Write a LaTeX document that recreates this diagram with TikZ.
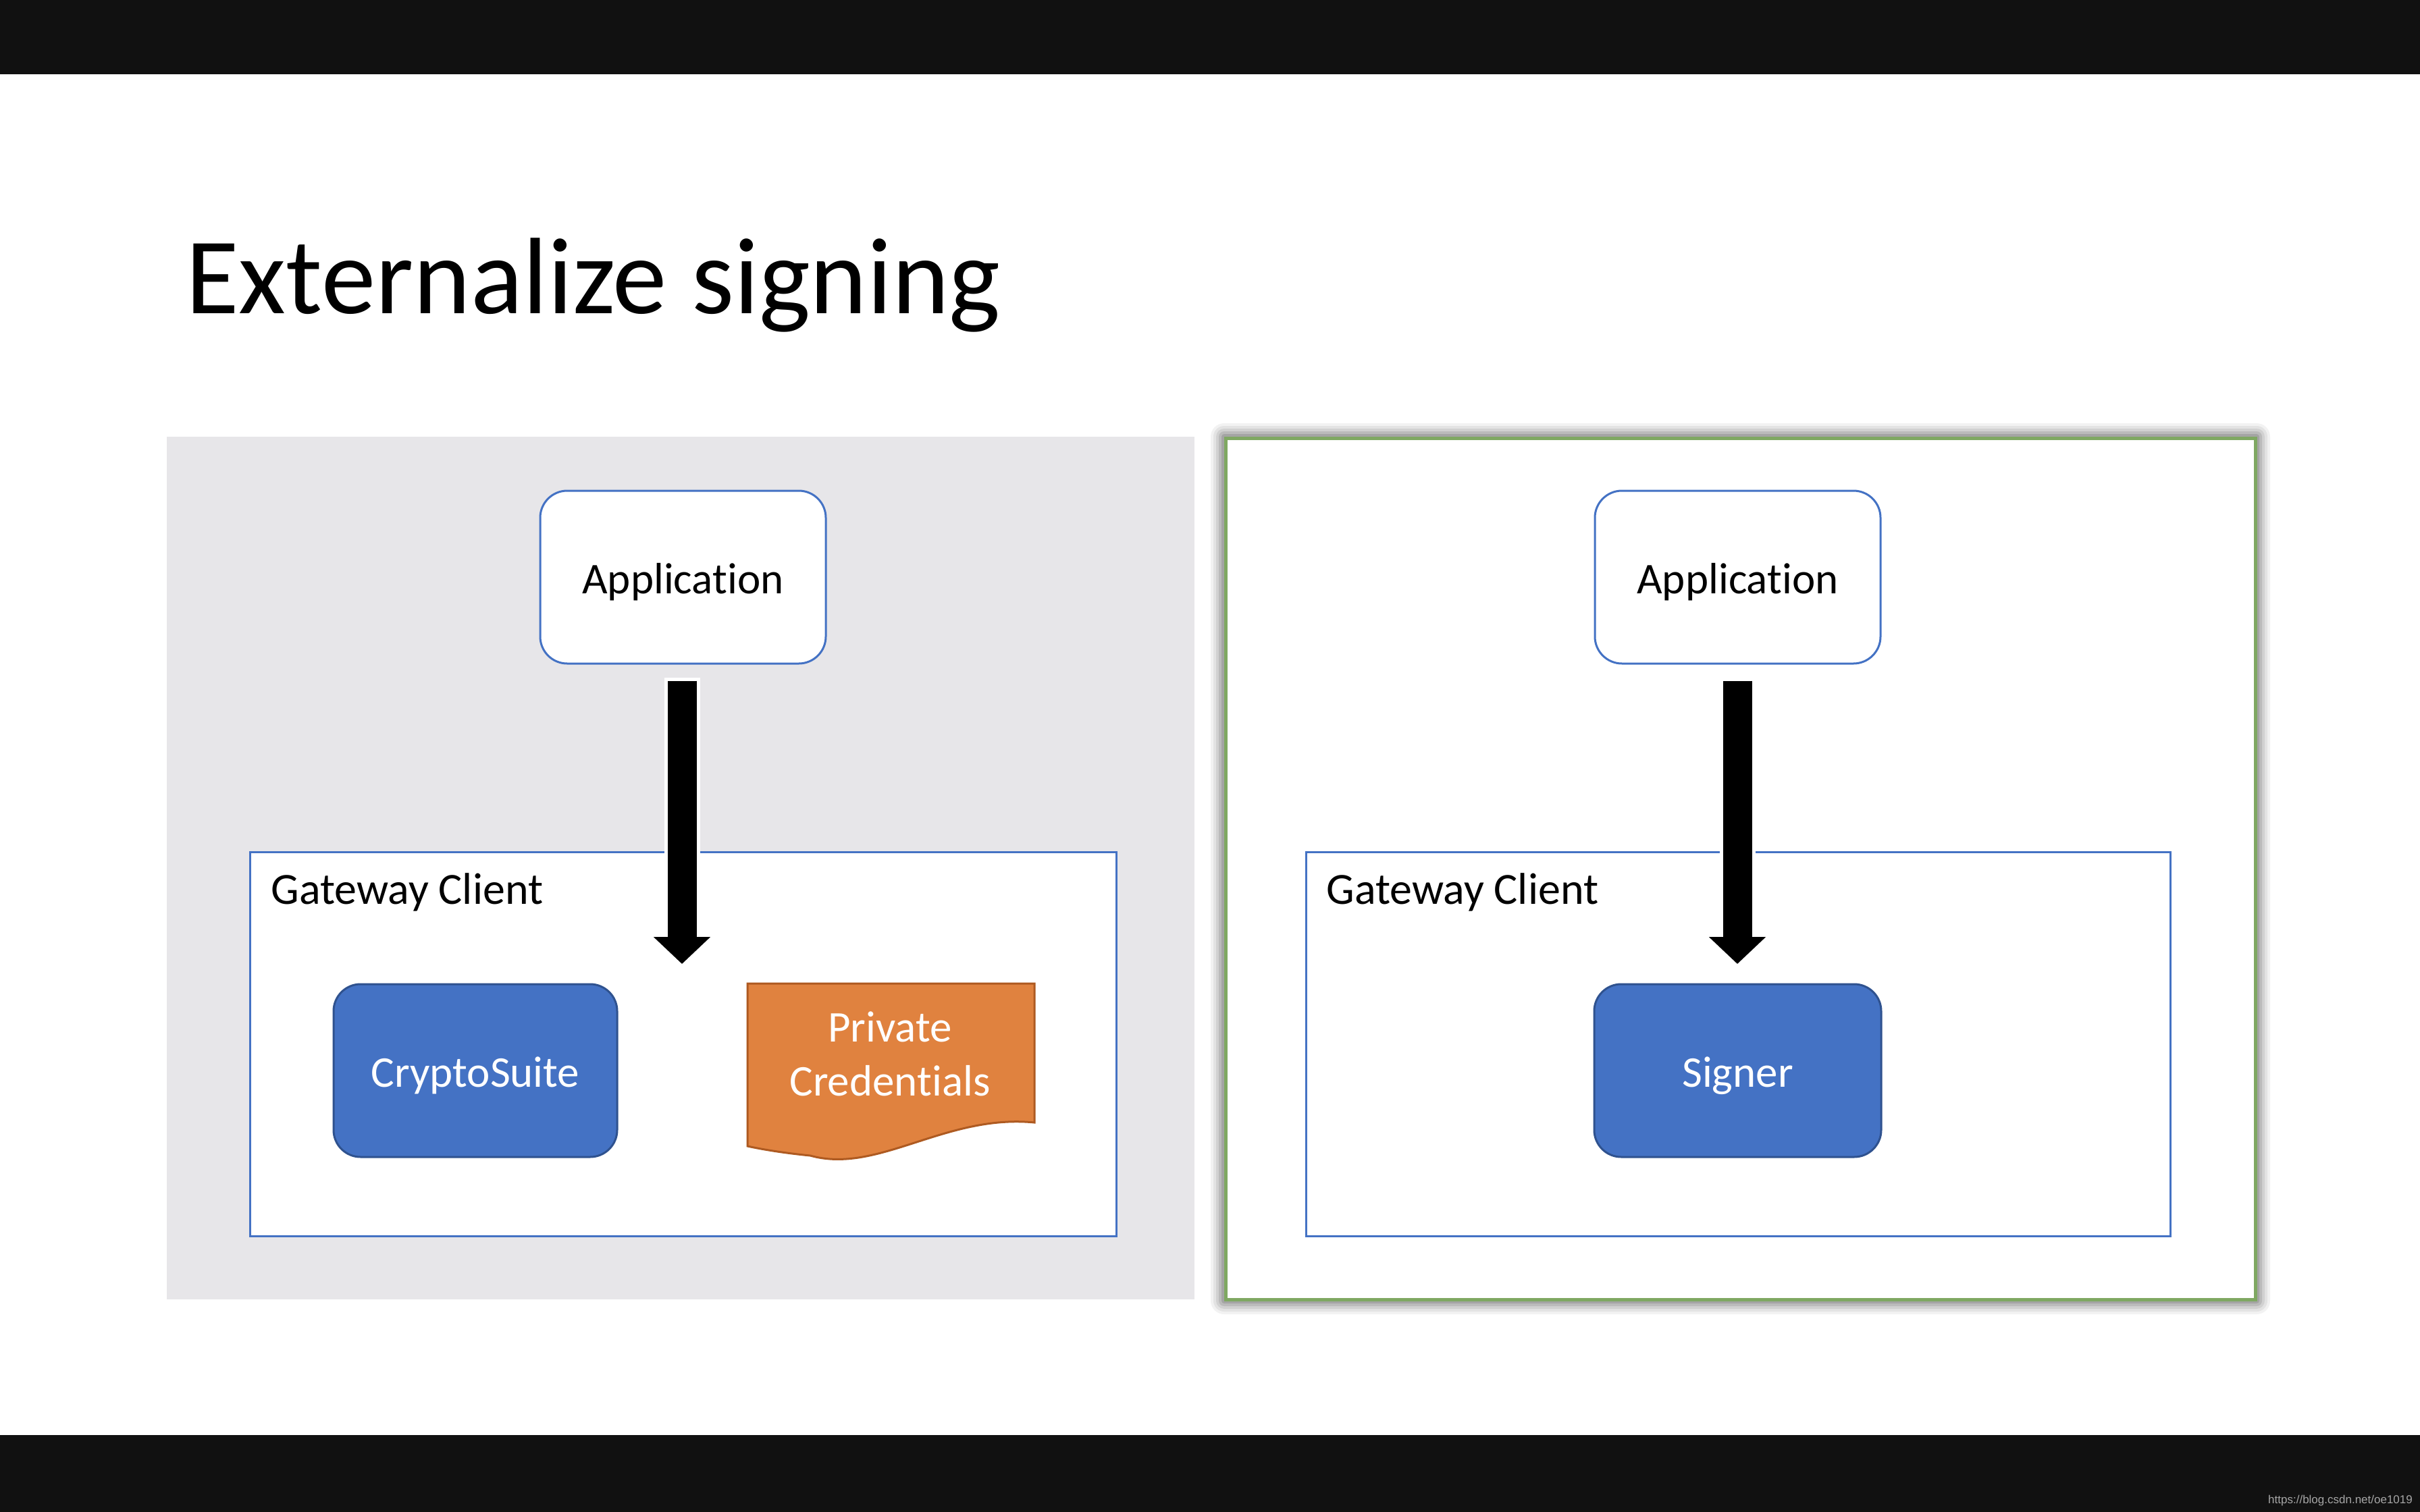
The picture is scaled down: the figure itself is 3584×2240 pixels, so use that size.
\documentclass[tikz,border=0pt]{standalone}
\usepackage{fontspec}
\setmainfont[Ligatures=NoCommon]{Carlito}
\newfontfamily\wmfont{Liberation Sans}
\usetikzlibrary{arrows.meta}
\definecolor{barc}{HTML}{111111}
\definecolor{panelgrey}{HTML}{E7E6E9}
\definecolor{msblue}{HTML}{4472C4}
\definecolor{msbluedark}{HTML}{2F528F}
\definecolor{msorange}{HTML}{E0823F}
\definecolor{msorangedark}{HTML}{AE5A21}
\definecolor{msgreen}{HTML}{7FA862}
\tikzset{
  appbox/.style={draw=msblue, line width=3pt, fill=white, rounded corners=40pt,
    minimum width=423pt, minimum height=256pt, font=\fontsize{65}{78}\selectfont,
    text height=64pt, text depth=16pt},
  gwbox/.style={draw=msblue, line width=3pt, fill=white, minimum width=1283pt, minimum height=569pt},
  bluebox/.style={draw=msbluedark, line width=3pt, fill=msblue, rounded corners=40pt,
    minimum width=420pt, minimum height=256pt, text=white, font=\fontsize{65}{78}\selectfont,
    text height=64pt, text depth=16pt},
  lbl/.style={font=\fontsize{66}{78}\selectfont, anchor=base west},
  arrowwhite/.style={white, line width=53pt},
  bigarrow/.style={black, line width=43pt, -{Triangle[length=40pt, width=82pt]}},
}
\begin{document}
\begin{tikzpicture}[x=1pt, y=-1pt]
\useasboundingbox (0,0) rectangle (3584,2240);
\fill[white] (0,0) rectangle (3584,2240);
\fill[barc] (0,0) rectangle (3584,110);
\fill[barc] (0,2126) rectangle (3584,2240);
\node[anchor=base west, inner sep=0pt, font=\fontsize{161}{190}\selectfont] (title) at (275,464) {Externalize signing};
% left panel
\fill[panelgrey] (247,647) rectangle (1769,1925);
% right panel shadow
\foreach \e/\o in {20/0.05,16/0.06,12/0.08,8/0.1,4/0.12}{
  \fill[black, opacity=\o, rounded corners=\e pt] (1813-\e,647-\e) rectangle (3342+\e,1927+\e);
}
\draw[msgreen, line width=5pt, fill=white] (1815,649) rectangle (3340,1925);
% left diagram
\node[gwbox] (gwL) at (1011.5,1546.5) {};
\node[lbl] (gwLl) at (398,1339) {Gateway Client};
\node[appbox] (appL) at (1011.5,855) {Application};
\node[bluebox] (cryptoL) at (704,1586) {CryptoSuite};
\fill[msorange, draw=msorangedark, line width=3pt] (1107,1457) -- (1532,1457) -- (1532,1663)
  .. controls (1400,1650) and (1300,1740) .. (1200,1712) .. controls (1160,1708) and (1130,1703) .. (1107,1698) -- cycle;
\node[text=white, align=center, font=\fontsize{65}{80}\selectfont] (credL) at (1318,1561) {Private\\Credentials};
\coordinate (tipL) at (1010,1428);
\draw[arrowwhite, shorten <=19pt] (appL.south -| tipL) -- ([yshift=35pt]tipL);
\draw[bigarrow, shorten <=24pt] (appL.south -| tipL) -- (tipL);
% right diagram
\node[gwbox, minimum width=1280pt] (gwR) at (2574,1546.5) {};
\node[lbl] (gwRl) at (1961,1339) {Gateway Client};
\node[appbox] (appR) at (2573.5,855) {Application};
\node[bluebox, minimum width=425pt] (signerR) at (2573.5,1586) {Signer};
\coordinate (tipR) at (2573,1428);
\draw[arrowwhite, shorten <=19pt] (appR.south -| tipR) -- ([yshift=35pt]tipR);
\draw[bigarrow, shorten <=24pt] (appR.south -| tipR) -- (tipR);
% watermark
\node[anchor=base east, inner sep=0pt, text=black!35, font=\wmfont\fontsize{17}{20}\selectfont] (wm) at (3573,2227) {https://blog.csdn.net/oe1019};
\end{tikzpicture}
\end{document}
